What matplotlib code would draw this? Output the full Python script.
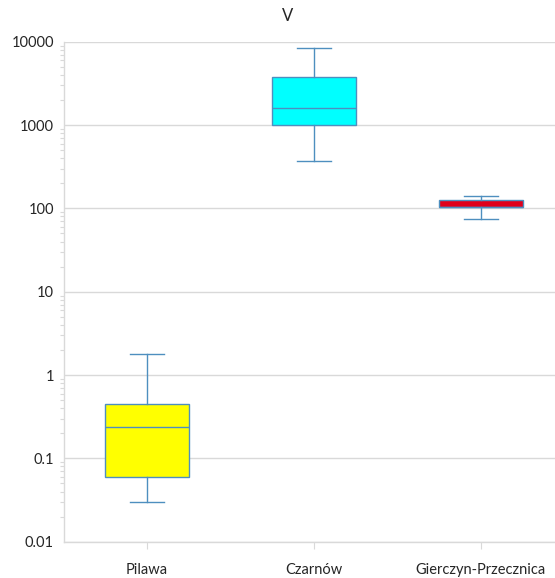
import matplotlib
matplotlib.use("Agg")
import matplotlib.pyplot as plt
from matplotlib.ticker import LogLocator, NullFormatter, FixedLocator, FixedFormatter

plt.rcParams['font.family'] = ['Lato', 'DejaVu Sans']

sites = ['Pilawa', 'Czarnów', 'Gierczyn-Przecznica']
whislo = [0.030, 373, 75]
q1 = [0.060, 1010, 103]
med = [0.236, 1615, 103]
q3 = [0.45, 3770, 127]
whishi = [1.77, 8340, 142]
box_colors = ['#FFFF00', '#00FFFF', '#E0001B']

edge = '#4E8FBF'
grid = '#D9D9D9'

stats = [dict(label=s, whislo=a, q1=b, med=c, q3=d, whishi=e, fliers=[])
         for s, a, b, c, d, e in zip(sites, whislo, q1, med, q3, whishi)]

fig = plt.figure(figsize=(5.55, 5.78), dpi=100)
ax = fig.add_axes([63.5 / 555, 1 - 541.7 / 578, 501 / 555, 500 / 578])

bp = ax.bxp(stats, positions=range(len(sites)), widths=0.5, capwidths=0.2,
            patch_artist=True, showfliers=False,
            boxprops=dict(edgecolor=edge, linewidth=1.0),
            medianprops=dict(color=edge, linewidth=1.0),
            whiskerprops=dict(color=edge, linewidth=1.0),
            capprops=dict(color=edge, linewidth=1.0))
for patch, c in zip(bp['boxes'], box_colors):
    patch.set_facecolor(c)

ax.set_yscale('log')
ax.set_ylim(0.01, 10000)
ax.set_xlim(-0.5, 2.5)
ax.yaxis.set_major_locator(FixedLocator([0.01, 0.1, 1, 10, 100, 1000, 10000]))
ax.yaxis.set_major_formatter(FixedFormatter(['0.01', '0.1', '1', '10', '100', '1000', '10000']))
ax.yaxis.set_minor_locator(LogLocator(base=10, subs=range(2, 10)))
ax.yaxis.set_minor_formatter(NullFormatter())
ax.set_xticks(range(len(sites)))
ax.set_xticklabels(sites)

ax.yaxis.grid(True, which='major', color=grid, linewidth=1.0)
ax.set_axisbelow(True)
for side in ['top', 'right']:
    ax.spines[side].set_visible(False)
for side in ['left', 'bottom']:
    ax.spines[side].set_color(grid)
    ax.spines[side].set_linewidth(1.0)

ax.tick_params(axis='y', which='major', length=0, pad=7, labelsize=10.5, labelcolor='#262626')
ax.tick_params(axis='y', which='minor', length=3, color=grid, width=0.8)
ax.tick_params(axis='x', length=5, color=grid, pad=10, labelsize=10.5, labelcolor='#262626')

fig.text(288 / 555, 1 - 16 / 578, 'V', ha='center', va='center', fontsize=12, color='#262626')

fig.savefig('out.png', dpi=100)
